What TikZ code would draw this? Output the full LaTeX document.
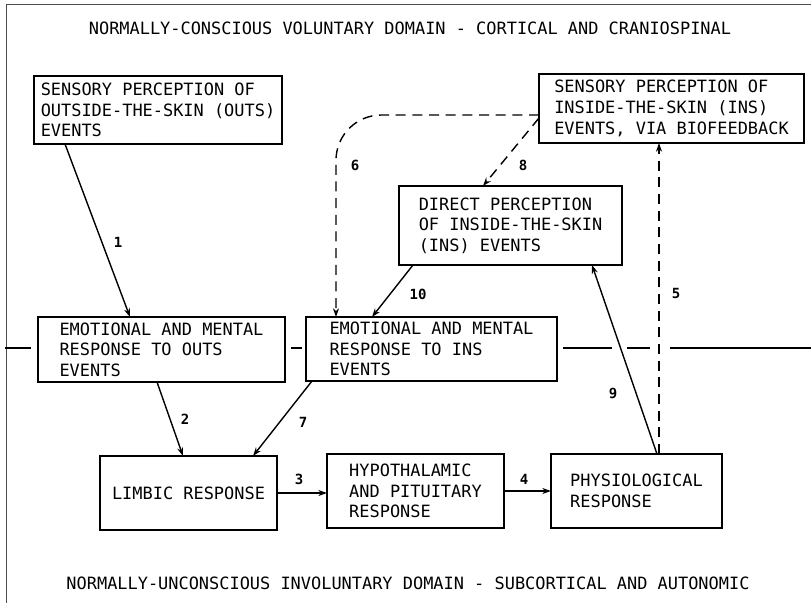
\documentclass[tikz,border=0pt]{standalone}
\usepackage{fontspec}
\newfontfamily\monofont{DejaVu Sans Mono}
\usetikzlibrary{arrows.meta,calc,positioning}

\tikzset{
  box/.style={draw, line width=1.4pt, fill=white, inner sep=0pt, outer sep=0pt,
    align=left, anchor=north west, font=\monofont\fontsize{12.7}{15.5}\selectfont},
  wh/.style 2 args={minimum width=#1*0.75pt, minimum height=#2*0.75pt},
  arr/.style={->, line width=1.05pt},
  dasharr/.style={arr, dash pattern=on 7.5pt off 5pt},
  lbl/.style={font=\monofont\bfseries\fontsize{10.5}{10.5}\selectfont},
  domaintitle/.style={font=\monofont\fontsize{12.7}{15}\selectfont},
  divider/.style={line width=2.2pt},
}

\begin{document}
\begin{tikzpicture}[%
>={Stealth[length=6.5pt,width=4.5pt]},
x=0.75pt, y=-0.75pt
]
\useasboundingbox (0,0) rectangle (811,603);
\draw[line width=0.5pt, black!70] (6,603) -- (6,4) -- (811,4);

% domain titles
\node[domaintitle] (conscious) at (410,28) {NORMALLY-CONSCIOUS VOLUNTARY DOMAIN - CORTICAL AND CRANIOSPINAL};
\node[domaintitle] (unconscious) at (408,583) {NORMALLY-UNCONSCIOUS INVOLUNTARY DOMAIN - SUBCORTICAL AND AUTONOMIC};

% divider between the domains
\draw[divider] (5,348) -- (31,348);
\draw[divider] (291,348) -- (302,348);
\draw[divider] (563,348) -- (612,348);
\draw[divider] (627,348) -- (650,348);
\draw[divider] (670,348) -- (811,348);

% boxes
\node[box, wh={248}{68}] (sensOut) at (34,76) {SENSORY PERCEPTION OF\\OUTSIDE-THE-SKIN (OUTS)\\EVENTS};
\node[box, wh={265}{69}] (sensIn) at (539,74) {SENSORY PERCEPTION OF\\INSIDE-THE-SKIN (INS)\\EVENTS, VIA BIOFEEDBACK};
\node[box, wh={223}{79}] (direct) at (399,186) {DIRECT PERCEPTION\\OF INSIDE-THE-SKIN\\(INS) EVENTS};
\node[box, wh={247}{65}] (emoOut) at (38,317) {EMOTIONAL AND MENTAL\\RESPONSE TO OUTS\\EVENTS};
\node[box, wh={251}{64}] (emoIn) at (306,317) {EMOTIONAL AND MENTAL\\RESPONSE TO INS\\EVENTS};
\node[box, wh={177}{74}] (limbic) at (100,456) {LIMBIC RESPONSE};
\node[box, wh={177}{74}] (hypo) at (327,454) {HYPOTHALAMIC\\AND PITUITARY\\RESPONSE};
\node[box, wh={171}{74}] (physio) at (551,454) {PHYSIOLOGICAL\\RESPONSE};

\coordinate (physTop) at ($(physio.north west)+(108,0)$);
\coordinate (from6) at ($(sensIn.south west)+(0,-28)$);
\coordinate (to6) at ($(emoIn.north west)+(30,0)$);

% solid: pathways
\draw[arr] ($(sensOut.south west)+(31,0)$) -- ($(emoOut.north west)+(92,0)$);
\draw[arr] ($(emoOut.south west)+(119,0)$) -- ($(limbic.north west)+(83,0)$);
\draw[arr] (limbic.east) -- (limbic.east -| hypo.west);
\draw[arr] (hypo.east) -- (hypo.east -| physio.west);
\draw[arr] ($(emoIn.south west)+(6,0)$) -- ($(limbic.north west)+(153,0)$);
\draw[arr] ($(physio.north west)+(106,0)$) -- ($(direct.south east)+(-30,0)$);
\draw[arr] ($(direct.south west)+(14,0)$) -- ($(emoIn.north west)+(66,0)$);

% dashed: biofeedback
\draw[dasharr] (physTop) -- (physTop |- sensIn.south);
\draw[dasharr, rounded corners=34pt] (from6) -| (to6);
\draw[dasharr] ($(sensIn.south west)+(0,-25)$) -- ($(direct.north west)+(84,0)$);

% numbers
\node[lbl] (n1) at (118,242) {1};
\node[lbl] (n2) at (185,419) {2};
\node[lbl] (n3) at (299,479) {3};
\node[lbl] (n4) at (524,479) {4};
\node[lbl] (n5) at (676,293) {5};
\node[lbl] (n6) at (355,165) {6};
\node[lbl] (n7) at (303,422) {7};
\node[lbl] (n8) at (523,165) {8};
\node[lbl] (n9) at (613,393) {9};
\node[lbl] (n10) at (418,294) {10};
\end{tikzpicture}
\end{document}
